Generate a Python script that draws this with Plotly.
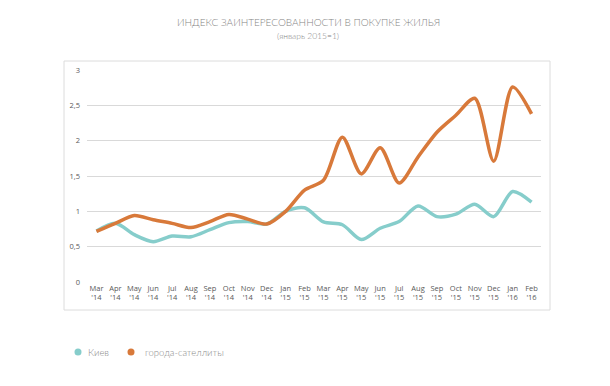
import plotly.graph_objects as go

months = ["Mar '14", "Apr '14", "May '14", "Jun '14", "Jul '14", "Aug '14", "Sep '14", "Oct '14",
          "Nov '14", "Dec '14", "Jan '15", "Feb '15", "Mar '15", "Apr '15", "May '15", "Jun '15",
          "Jul '15", "Aug '15", "Sep '15", "Oct '15", "Nov '15", "Dec '15", "Jan '16", "Feb '16"]
tick_labels = [m.replace(" ", "<br>") for m in months]

kiev = [0.72, 0.83, 0.67, 0.57, 0.65, 0.64, 0.74, 0.84, 0.855, 0.82, 1.0, 1.05,
        0.85, 0.81, 0.60, 0.76, 0.855, 1.075, 0.925, 0.96, 1.10, 0.925, 1.28, 1.13]
satellites = [0.715, 0.83, 0.94, 0.88, 0.83, 0.77, 0.855, 0.955, 0.89, 0.82, 1.0, 1.30,
              1.44, 2.05, 1.53, 1.90, 1.40, 1.77, 2.12, 2.36, 2.60, 1.71, 2.76, 2.38]

y_ticks = [0, 0.5, 1, 1.5, 2, 2.5, 3]
y_tick_text = ["0", "0,5", "1", "1,5", "2", "2,5", "3"]

series_names = ["Киев", "города-сателлиты"]
title_text = "ИНДЕКС ЗАИНТЕРЕСОВАННОСТИ В ПОКУПКЕ ЖИЛЬЯ"
subtitle_text = "(январь 2015=1)"
blue = "#86CDCB"
orange = "#D8793A"

# plot area in pixels: x 87..541, y 70..282
L, R, T, B = 87, 69, 70, 104
PW, PH = 610 - L - R, 386 - T - B


def px_x(x):
    return (x - L) / PW


def px_y(y):
    return (386 - B - y) / PH


fig = go.Figure()
fig.add_trace(go.Scatter(x=months, y=kiev, mode="lines",
                         line=dict(color=blue, width=3.5, shape="spline", smoothing=0.8),
                         showlegend=False, name=series_names[0]))
fig.add_trace(go.Scatter(x=months, y=satellites, mode="lines",
                         line=dict(color=orange, width=3.5, shape="spline", smoothing=0.8),
                         showlegend=False, name=series_names[1]))

legend_font = dict(family="Lato", size=9.5, color="#8a8a8a", weight=300)
shapes = [dict(type="rect", xref="paper", yref="paper", x0=px_x(64), x1=px_x(550), y0=px_y(310), y1=px_y(61),
               line=dict(color="#dcdcdc", width=1), fillcolor="rgba(0,0,0,0)", layer="below")]
annotations = [
    dict(text=title_text, xref="paper", yref="paper", x=px_x(308), y=px_y(22), xanchor="center",
         yanchor="middle", showarrow=False, font=dict(family="Lato", size=10, color="#858585", weight=300)),
    dict(text=subtitle_text, xref="paper", yref="paper", x=px_x(308), y=px_y(36), xanchor="center",
         yanchor="middle", showarrow=False, font=dict(family="Lato", size=8.5, color="#858585", weight=300)),
]
for cx, tx, col, name in [(78, 86, blue, series_names[0]), (131, 143, orange, series_names[1])]:
    shapes.append(dict(type="circle", xref="paper", yref="paper",
                       x0=px_x(cx - 3.5), x1=px_x(cx + 3.5), y0=px_y(352 + 3.5), y1=px_y(352 - 3.5),
                       fillcolor=col, line=dict(width=0)))
    annotations.append(dict(text=name, xref="paper", yref="paper", x=px_x(tx), y=px_y(352),
                            xanchor="left", yanchor="middle", showarrow=False, font=legend_font))

fig.update_layout(
    width=610, height=386,
    margin=dict(l=L, r=R, t=T, b=B, autoexpand=False),
    paper_bgcolor="white", plot_bgcolor="white",
    font=dict(family="Open Sans", color="#595959"),
    showlegend=False,
    xaxis=dict(
        type="category", range=[-0.5, 23.5], tickmode="array", tickvals=months, ticktext=tick_labels,
        showgrid=False, showline=False, zeroline=False, ticks="",
        tickfont=dict(size=7.5, color="#595959"), fixedrange=True,
    ),
    yaxis=dict(
        range=[0, 3], tickmode="array", tickvals=y_ticks, ticktext=y_tick_text,
        showgrid=True, gridcolor="#d9d9d9", gridwidth=1, zeroline=False, showline=False,
        tickfont=dict(size=7.5, color="#595959"), ticklabelstandoff=6,
    ),
    shapes=shapes,
    annotations=annotations,
)

fig.write_html("out.html", post_script="document.body.style.margin='0';",
               config={"displayModeBar": False})
